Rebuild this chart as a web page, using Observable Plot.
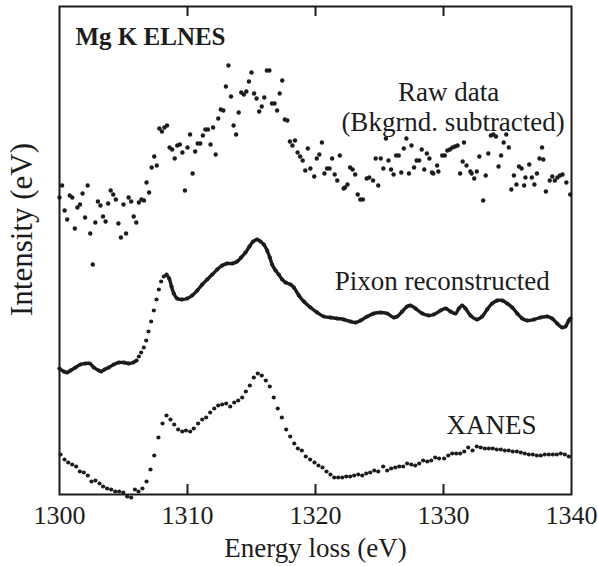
<!DOCTYPE html>
<html>
<head>
<meta charset="utf-8">
<script src="https://cdn.jsdelivr.net/npm/d3@7"></script>
<script src="https://cdn.jsdelivr.net/npm/@observablehq/plot@0.6"></script>
<style>
  html, body { margin: 0; padding: 0; background: #fff; }
  #chart { width: 598px; height: 566px; }
</style>
</head>
<body>
<div id="chart"></div>
<script>
// Energy-loss tick labels and inner tick marks
const xTicks = [1300, 1310, 1320, 1330, 1340];
const xInnerTicks = [1310, 1320, 1330];

// Raw data (background subtracted), arbitrary intensity units
const rawX = [
  1300.0,1300.2,1300.4,1300.6,1300.8,1301.0,1301.2,1301.4,1301.6,1301.8,
  1302.0,1302.2,1302.4,1302.6,1302.8,1303.0,1303.2,1303.4,1303.6,1303.8,
  1304.0,1304.2,1304.4,1304.6,1304.8,1305.0,1305.2,1305.4,1305.6,1305.8,
  1306.0,1306.2,1306.4,1306.6,1306.8,1307.0,1307.2,1307.4,1307.6,1307.8,
  1308.0,1308.2,1308.4,1308.6,1308.8,1309.0,1309.2,1309.4,1309.6,1309.8,
  1310.0,1310.2,1310.4,1310.6,1310.8,1311.0,1311.2,1311.4,1311.6,1311.8,
  1312.0,1312.2,1312.4,1312.6,1312.8,1313.0,1313.2,1313.4,1313.6,1313.8,
  1314.0,1314.2,1314.4,1314.6,1314.8,1315.0,1315.2,1315.4,1315.6,1315.8,
  1316.0,1316.2,1316.4,1316.6,1316.8,1317.0,1317.2,1317.4,1317.6,1317.8,
  1318.0,1318.2,1318.4,1318.6,1318.8,1319.0,1319.2,1319.4,1319.6,
  1319.9,1320.1,1320.3,1320.5,1320.7,1320.9,1321.1,1321.3,1321.5,1321.7,
  1321.9,1322.2,1322.3,1322.5,1322.7,1322.9,1323.1,1323.3,1323.5,1323.7,
  1324.0,1324.2,1324.5,1324.7,1324.9,1325.1,1325.3,1325.5,1325.7,1325.9,
  1326.1,1326.3,1326.5,1326.7,1326.9,1327.1,1327.3,1327.5,1327.7,1327.9,
  1328.1,1328.3,1328.5,1328.7,1328.9,1329.1,1329.2,1329.5,1329.6,1329.9,
  1330.1,1330.3,1330.5,1330.7,1330.9,1331.1,1331.3,1331.5,1331.6,1331.8,
  1332.1,1332.2,1332.4,1332.6,1332.8,1333.1,1333.3,1333.5,1333.7,1333.9,
  1334.1,1334.3,1334.5,1334.7,1334.9,1335.1,1335.3,1335.5,1335.7,1335.9,
  1336.1,1336.3,1336.4,1336.7,1336.9,1337.1,1337.3,1337.5,1337.7,1337.8,
  1338.0,1338.3,1338.5,1338.7,1338.9,1339.1,1339.3,1339.6,1339.9
];
const rawY = [
  297,309,284,275,299,297,266,287,290,301,
  277,309,261,230,272,293,289,278,273,291,
  304,300,295,271,257,290,261,297,293,278,
  272,292,295,294,312,302,327,338,329,366,
  363,367,369,347,345,336,349,350,342,304,
  347,360,321,343,351,351,359,365,365,350,
  367,340,376,385,384,408,429,398,369,360,
  382,402,400,403,413,422,401,396,383,388,
  397,424,424,391,391,384,401,414,375,374,
  353,349,354,342,338,334,324,346,326,
  318,336,340,352,321,326,326,336,320,314,
  339,306,307,310,327,325,320,300,295,295,
  316,317,314,336,309,336,326,356,334,325,
  320,339,339,322,346,356,321,349,327,334,
  334,345,325,341,336,322,321,329,323,339,
  339,344,345,347,348,349,321,333,352,329,
  323,321,316,323,338,294,319,341,359,360,
  358,328,339,352,360,347,305,319,310,328,
  326,309,317,330,317,310,321,336,347,335,
  303,314,318,314,317,319,320,312,300
];

// Pixon reconstructed spectrum
const pixonX = [
  1300.0,1300.34,1300.60,1300.86,1301.25,1301.64,1302.03,1302.37,1302.68,1303.07,
  1303.26,1303.52,1303.85,1304.24,1304.64,1305.03,1305.42,1305.76,1306.02,1306.20,
  1306.38,1306.59,1306.77,1306.95,1307.16,1307.37,1307.58,1307.76,1307.94,1308.15,
  1308.36,1308.57,1308.75,1308.93,1309.19,1309.58,1309.97,1310.36,1310.76,1311.15,
  1311.54,1311.93,1312.32,1312.71,1313.10,1313.49,1313.88,1314.19,1314.53,1314.84,
  1315.13,1315.44,1315.70,1315.96,1316.22,1316.43,1316.61,1316.88,1317.13,1317.40,
  1317.66,
  1318.05,1318.31,1318.70,1319.09,1319.61,1320.13,1320.65,1321.17,1321.69,1322.21,
  1322.73,1323.13,1323.52,1324.04,1324.55,1325.08,1325.60,1326.12,1326.38,1326.77,
  1327.16,1327.42,1327.81,1328.34,1328.85,1329.24,1329.77,1330.16,1330.55,1330.94,
  1331.20,1331.46,1331.72,1332.11,1332.63,1333.02,1333.41,1333.80,1334.20,1334.59,
  1334.98,1335.37,1335.76,1336.15,1336.54,1337.06,1337.58,1338.10,1338.49,1338.88,
  1339.27,1339.53,1339.79,1339.92
];
const pixonY = [
  126,123,122,124,127,130,131,131,127,124,
  123,125,127,130,132,132,131,132,134,138,
  142,147,154,163,173,184,195,205,213,218,
  220,216,208,201,196,195,196,199,204,210,
  215,220,225,229,231,231,233,237,242,248,
  253,255,253,250,244,237,230,224,220,215,
  212,
  210,207,199,193,187,182,178,177,176,175,
  173,172,174,178,181,182,181,177,178,183,
  188,189,186,181,179,180,184,186,183,181,
  186,189,186,179,175,178,185,191,194,194,
  191,187,181,176,174,175,177,178,176,171,
  167,168,174,176
];
// energy range where the reconstruction shows separate dots (steep edge)
const pixonEdge = [1306.1, 1308.2];

// XANES spectrum
const xanesX = [
  1300.08,1300.39,1300.68,1300.99,1301.30,1301.59,1301.90,1302.21,1302.50,1302.81,
  1303.13,1303.41,1303.72,1304.04,1304.35,1304.66,1304.98,1305.29,1305.60,1305.89,
  1306.17,1306.48,1306.80,1307.11,1307.40,1307.73,1308.05,1308.36,1308.67,1308.96,
  1309.27,1309.59,1309.88,
  1310.21,1310.49,1310.83,1311.15,1311.46,1311.77,1312.09,1312.40,1312.71,1313.02,
  1313.34,1313.65,1313.96,1314.27,1314.56,1314.87,1315.18,1315.49,1315.80,1316.12,
  1316.43,1316.74,1317.05,1317.37,1317.71,1318.02,1318.34,1318.62,1318.93,1319.24,
  1319.58,
  1319.92,1320.23,1320.55,1320.86,1321.17,1321.46,1321.77,1322.09,1322.40,1322.71,
  1323.02,1323.34,1323.65,1323.96,1324.27,1324.59,1324.90,1325.29,1325.60,1325.91,
  1326.23,1326.54,1326.85,1327.16,1327.48,1327.79,1328.10,1328.41,1328.73,1329.04,
  1329.35,1329.66,
  1330.05,1330.37,1330.68,1330.99,1331.30,1331.62,1331.93,1332.27,1332.60,1332.91,
  1333.23,1333.54,1333.85,1334.16,1334.48,1334.79,1335.10,1335.41,1335.73,1336.04,
  1336.35,1336.66,1336.98,1337.29,1337.60,1337.91,1338.23,1338.54,1338.85,1339.16,
  1339.48,1339.79
];
const xanesY = [
  40,35,32,30,28,23,22,19,13,14,
  11,8,6,5,3,3,2,-2,-3,5,
  3,6,13,25,39,57,71,79,75,70,
  65,63,64,
  63,66,71,75,77,82,86,89,90,91,
  88,92,94,97,103,109,117,121,119,114,
  108,97,86,77,65,58,51,46,44,38,
  35,
  32,29,27,23,20,17,17,17,18,18,
  19,20,19,21,22,24,23,28,24,26,
  27,28,28,31,30,29,31,34,33,34,
  37,36,
  36,39,41,41,41,43,47,44,48,47,
  46,46,46,45,45,44,44,43,43,42,
  41,40,40,39,39,40,40,40,40,41,
  40,38
];

// Annotations (label text and anchor in data units)
const labelText = ["Raw data", "(Bkgrnd. subtracted)", "Pixon reconstructed", "XANES"];
const labelX = [1330.4, 1330.75, 1329.9, 1333.75];
const labelY = [394, 364, 205, 61];
const titleText = "Mg K ELNES";
const xLabel = "Energy loss (eV)";
const yLabel = "Intensity (eV)";

const raw = rawX.map((x, i) => ({x, y: rawY[i]}));
const pixon = pixonX.map((x, i) => ({x, y: pixonY[i]}));
const xanes = xanesX.map((x, i) => ({x, y: xanesY[i]}));
const labels = labelText.map((t, i) => ({t, x: labelX[i], y: labelY[i]}));

const ink = "#1c1c1c";
const serif = "'Liberation Serif', 'Times New Roman', Times, serif";

const chart = Plot.plot({
  width: 598,
  height: 566,
  marginLeft: 59,
  marginRight: 27,
  marginTop: 6,
  marginBottom: 72,
  x: {domain: [1300, 1340]},
  y: {domain: [0, 488], axis: null},
  style: {fontFamily: serif, background: "#fff", color: ink, overflow: "visible"},
  marks: [
    Plot.frame({stroke: ink, strokeWidth: 2}),
    Plot.tickX(xInnerTicks, {x: d => d, insetTop: 478, stroke: ink, strokeWidth: 2}),
    Plot.tickX(xInnerTicks, {x: d => d, insetBottom: 478, stroke: ink, strokeWidth: 2}),
    Plot.axisX(xTicks, {anchor: "bottom", tickSize: 0, tickPadding: 11, fontSize: 26, label: null, fill: ink, tickFormat: d => String(d)}),
    // raw data
    Plot.dot(raw, {x: "x", y: "y", r: 2.2, fill: ink, stroke: null}),
    // pixon: continuous line where dense, dots everywhere
    Plot.line(pixon, {
      x: "x",
      y: d => (d.x > pixonEdge[0] && d.x < pixonEdge[1]) ? NaN : d.y,
      curve: "catmull-rom", stroke: ink, strokeWidth: 3.4
    }),
    Plot.dot(pixon, {x: "x", y: "y", r: 2.1, fill: ink, stroke: null}),
    // xanes
    Plot.dot(xanes, {x: "x", y: "y", r: 2.1, fill: ink, stroke: null}),
    // annotations
    Plot.text(labels, {x: "x", y: "y", text: "t", fontSize: 27, lineAnchor: "bottom", textAnchor: "middle", fill: ink}),
    Plot.text([titleText], {frameAnchor: "top-left", dx: 16, dy: 38, text: d => d, fontSize: 25, fontWeight: "bold", lineAnchor: "bottom", textAnchor: "start", fill: ink}),
    Plot.text([xLabel], {frameAnchor: "bottom", dy: 62, text: d => d, fontSize: 27, lineAnchor: "bottom", fill: ink}),
    Plot.text([yLabel], {frameAnchor: "left", dx: -28, dy: -21, rotate: -90, text: d => d, fontSize: 31, lineAnchor: "bottom", textAnchor: "middle", fill: ink})
  ]
});
document.getElementById("chart").appendChild(chart);
</script>
</body>
</html>
